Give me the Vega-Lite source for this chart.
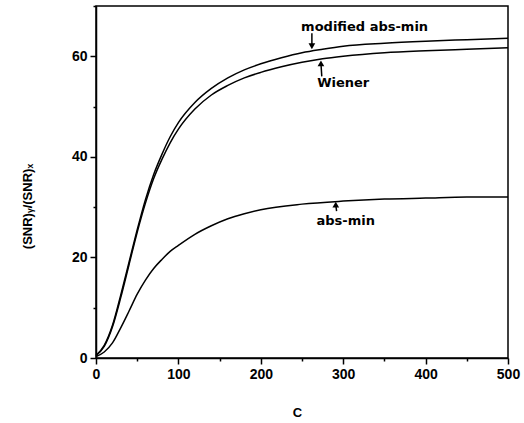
{
  "$schema": "https://vega.github.io/schema/vega-lite/v6.json",
  "width": 412,
  "height": 352,
  "autosize": "none",
  "padding": {"left": 96, "top": 6, "right": 16, "bottom": 65},
  "background": "white",
  "config": {
    "view": {"stroke": "black", "strokeWidth": 1.5},
    "font": "Liberation Sans",
    "axis": {"grid": false, "domainColor": "black", "domainWidth": 1.5, "tickColor": "black", "tickWidth": 1.5, "labelColor": "black", "labelFontSize": 14, "labelFont": "Liberation Sans", "labelFontWeight": "bold", "titleFont": "Liberation Sans", "titleColor": "black", "titleFontWeight": "bold"}
  },
  "datasets": {
    "curves": [
      {"C": 0, "v": 0.5, "s": "modified abs-min"},
      {"C": 10, "v": 2.5, "s": "modified abs-min"},
      {"C": 20, "v": 6.5, "s": "modified abs-min"},
      {"C": 30, "v": 12.5, "s": "modified abs-min"},
      {"C": 40, "v": 19, "s": "modified abs-min"},
      {"C": 50, "v": 25.5, "s": "modified abs-min"},
      {"C": 60, "v": 31.5, "s": "modified abs-min"},
      {"C": 70, "v": 36.5, "s": "modified abs-min"},
      {"C": 80, "v": 40.5, "s": "modified abs-min"},
      {"C": 90, "v": 44, "s": "modified abs-min"},
      {"C": 100, "v": 46.8, "s": "modified abs-min"},
      {"C": 120, "v": 50.8, "s": "modified abs-min"},
      {"C": 140, "v": 53.6, "s": "modified abs-min"},
      {"C": 160, "v": 55.7, "s": "modified abs-min"},
      {"C": 180, "v": 57.3, "s": "modified abs-min"},
      {"C": 200, "v": 58.5, "s": "modified abs-min"},
      {"C": 225, "v": 59.7, "s": "modified abs-min"},
      {"C": 250, "v": 60.7, "s": "modified abs-min"},
      {"C": 275, "v": 61.4, "s": "modified abs-min"},
      {"C": 300, "v": 62, "s": "modified abs-min"},
      {"C": 350, "v": 62.6, "s": "modified abs-min"},
      {"C": 400, "v": 63, "s": "modified abs-min"},
      {"C": 450, "v": 63.3, "s": "modified abs-min"},
      {"C": 500, "v": 63.6, "s": "modified abs-min"},
      {"C": 0, "v": 0.5, "s": "Wiener"},
      {"C": 10, "v": 2.3, "s": "Wiener"},
      {"C": 20, "v": 6.2, "s": "Wiener"},
      {"C": 30, "v": 12, "s": "Wiener"},
      {"C": 40, "v": 18.5, "s": "Wiener"},
      {"C": 50, "v": 25, "s": "Wiener"},
      {"C": 60, "v": 30.8, "s": "Wiener"},
      {"C": 70, "v": 35.7, "s": "Wiener"},
      {"C": 80, "v": 39.5, "s": "Wiener"},
      {"C": 90, "v": 42.8, "s": "Wiener"},
      {"C": 100, "v": 45.5, "s": "Wiener"},
      {"C": 120, "v": 49.5, "s": "Wiener"},
      {"C": 140, "v": 52.3, "s": "Wiener"},
      {"C": 160, "v": 54.2, "s": "Wiener"},
      {"C": 180, "v": 55.7, "s": "Wiener"},
      {"C": 200, "v": 56.8, "s": "Wiener"},
      {"C": 225, "v": 57.9, "s": "Wiener"},
      {"C": 250, "v": 58.8, "s": "Wiener"},
      {"C": 275, "v": 59.5, "s": "Wiener"},
      {"C": 300, "v": 60, "s": "Wiener"},
      {"C": 350, "v": 60.7, "s": "Wiener"},
      {"C": 400, "v": 61.1, "s": "Wiener"},
      {"C": 450, "v": 61.4, "s": "Wiener"},
      {"C": 500, "v": 61.7, "s": "Wiener"},
      {"C": 0, "v": 0.3, "s": "abs-min"},
      {"C": 10, "v": 1.2, "s": "abs-min"},
      {"C": 20, "v": 3, "s": "abs-min"},
      {"C": 30, "v": 6, "s": "abs-min"},
      {"C": 40, "v": 9.3, "s": "abs-min"},
      {"C": 50, "v": 12.7, "s": "abs-min"},
      {"C": 60, "v": 15.5, "s": "abs-min"},
      {"C": 70, "v": 17.8, "s": "abs-min"},
      {"C": 80, "v": 19.6, "s": "abs-min"},
      {"C": 90, "v": 21.2, "s": "abs-min"},
      {"C": 100, "v": 22.4, "s": "abs-min"},
      {"C": 120, "v": 24.6, "s": "abs-min"},
      {"C": 140, "v": 26.3, "s": "abs-min"},
      {"C": 160, "v": 27.7, "s": "abs-min"},
      {"C": 180, "v": 28.7, "s": "abs-min"},
      {"C": 200, "v": 29.5, "s": "abs-min"},
      {"C": 250, "v": 30.6, "s": "abs-min"},
      {"C": 300, "v": 31.2, "s": "abs-min"},
      {"C": 350, "v": 31.6, "s": "abs-min"},
      {"C": 400, "v": 31.8, "s": "abs-min"},
      {"C": 450, "v": 32, "s": "abs-min"},
      {"C": 500, "v": 32, "s": "abs-min"}
    ],
    "labels": [
      {"C": 326, "v": 65.8, "label": "modified abs-min"},
      {"C": 300, "v": 54.6, "label": "Wiener"},
      {"C": 303, "v": 27.3, "label": "abs-min"}
    ],
    "arrows": [
      {"C": 262, "v": 64.6, "C2": 262, "v2": 62, "head": "triangle-down"},
      {"C": 274, "v": 56, "C2": 273, "v2": 58.6, "head": "triangle-up"},
      {"C": 292, "v": 29.2, "C2": 291, "v2": 30.5, "head": "triangle-up"}
    ]
  },
  "layer": [
    {
      "data": {"name": "curves"},
      "mark": {"type": "line", "color": "black", "strokeWidth": 1.5, "interpolate": "monotone"},
      "encoding": {
        "x": {"field": "C", "type": "quantitative", "scale": {"domain": [0, 500], "nice": false},
          "axis": {"title": "C", "titleFontSize": 13, "titleX": 201, "titleY": 48, "titleBaseline": "top", "values": [0, 50, 100, 150, 200, 250, 300, 350, 400, 450, 500],
            "labelExpr": "datum.value % 100 == 0 ? datum.label : ''",
            "tickSize": {"condition": {"test": "datum.value % 100 == 0", "value": 6}, "value": 3},
            "labelPadding": 3, "labelFlush": false}},
        "y": {"field": "v", "type": "quantitative", "scale": {"domain": [0, 70], "nice": false},
          "axis": {"title": "(SNR)ᵧ/(SNR)ₓ", "titleFontSize": 13, "titleX": -69, "titleY": 200, "titleAngle": 270, "titleAlign": "center", "titleBaseline": "middle",
            "values": [0, 10, 20, 30, 40, 50, 60, 70],
            "labelExpr": "datum.value % 20 == 0 ? datum.label : ''",
            "tickSize": {"condition": {"test": "datum.value % 20 == 0", "value": 6}, "value": 3},
            "labelPadding": 3, "labelFlush": false}},
        "detail": {"field": "s"}
      }
    },
    {
      "data": {"name": "labels"},
      "mark": {"type": "text", "color": "black", "fontSize": 13, "font": "DejaVu Sans", "fontWeight": "bold", "align": "center", "baseline": "middle"},
      "encoding": {
        "x": {"field": "C", "type": "quantitative"},
        "y": {"field": "v", "type": "quantitative"},
        "text": {"field": "label"}
      }
    },
    {
      "data": {"name": "arrows"},
      "mark": {"type": "rule", "color": "black", "strokeWidth": 1.5},
      "encoding": {
        "x": {"field": "C", "type": "quantitative"},
        "y": {"field": "v", "type": "quantitative"},
        "x2": {"field": "C2"},
        "y2": {"field": "v2"}
      }
    },
    {
      "data": {"name": "arrows"},
      "mark": {"type": "point", "filled": true, "color": "black", "opacity": 1, "size": 45},
      "encoding": {
        "x": {"field": "C2", "type": "quantitative"},
        "y": {"field": "v2", "type": "quantitative"},
        "shape": {"field": "head", "type": "nominal", "scale": null, "legend": null}
      }
    }
  ]
}
